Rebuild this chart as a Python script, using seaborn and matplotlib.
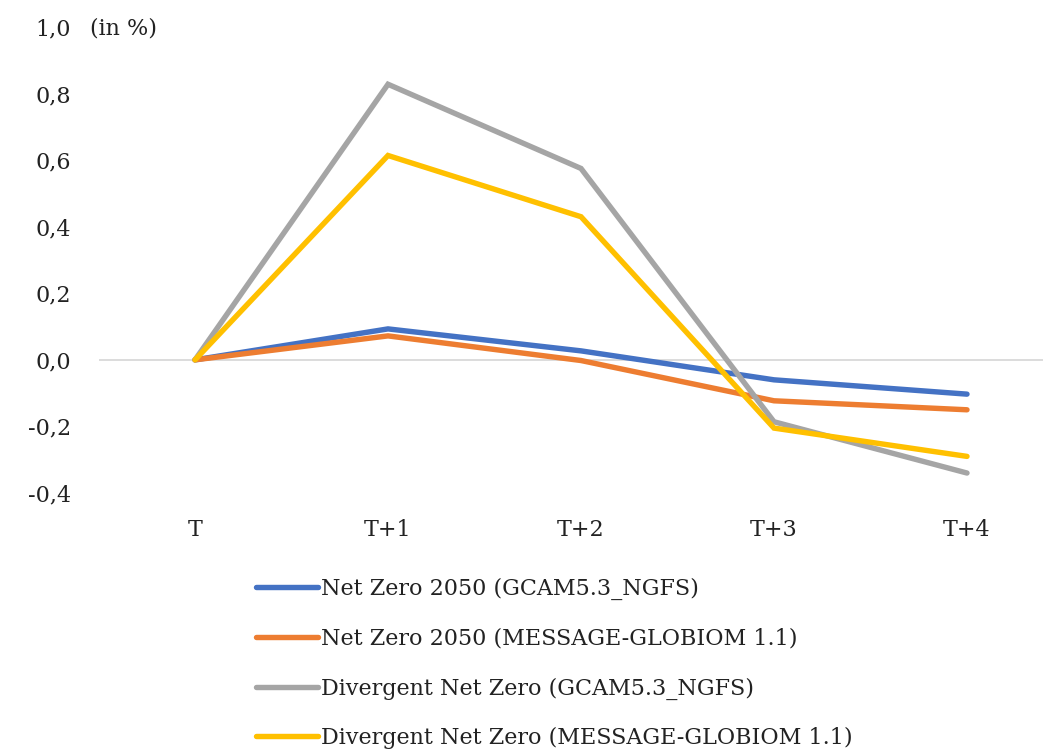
import matplotlib
matplotlib.use("Agg")
import matplotlib.pyplot as plt
from matplotlib.ticker import FuncFormatter
import seaborn as sns
import pandas as pd

periods = ["T", "T+1", "T+2", "T+3", "T+4"]
nz_gcam = [0.0, 0.093, 0.027, -0.060, -0.103]
nz_message = [0.0, 0.072, -0.002, -0.123, -0.150]
dnz_gcam = [0.0, 0.828, 0.575, -0.186, -0.340]
dnz_message = [0.0, 0.614, 0.430, -0.205, -0.290]

series_names = [
    "Net Zero 2050 (GCAM5.3_NGFS)",
    "Net Zero 2050 (MESSAGE-GLOBIOM 1.1)",
    "Divergent Net Zero (GCAM5.3_NGFS)",
    "Divergent Net Zero (MESSAGE-GLOBIOM 1.1)",
]
series_values = [nz_gcam, nz_message, dnz_gcam, dnz_message]
colors = ["#4472C4", "#ED7D31", "#A5A5A5", "#FFC000"]

rows = []
for name, vals in zip(series_names, series_values):
    for i, (p, v) in enumerate(zip(periods, vals)):
        rows.append({"pos": i, "period": p, "value": v, "scenario": name})
df = pd.DataFrame(rows)

sns.set_style("white")
plt.rcParams["font.family"] = ["DejaVu Serif"]

FS = 16
TXT = "#222222"
LW = 3.9

fig = plt.figure(figsize=(10.43, 7.5), dpi=100)
ax = fig.add_axes([98.5 / 1043, 1 - 493 / 750, 965 / 1043, 466 / 750])

ax.axhline(0, color="#D9D9D9", lw=1.3, zorder=1)
sns.lineplot(data=df, x="pos", y="value", hue="scenario", hue_order=series_names,
             palette=colors, linewidth=LW, ax=ax, legend=False, zorder=3,
             solid_capstyle="round", solid_joinstyle="miter")

ax.set_xlim(-0.5, 4.5)
ax.set_ylim(-0.4, 1.0)
ax.set_xticks(range(len(periods)))
ax.set_xticklabels(periods)
ax.set_yticks([-0.4, -0.2, 0.0, 0.2, 0.4, 0.6, 0.8, 1.0])
ax.yaxis.set_major_formatter(FuncFormatter(lambda v, _: f"{v:.1f}".replace(".", ",")))
ax.tick_params(axis="both", length=0, labelsize=FS, colors=TXT)
ax.tick_params(axis="y", pad=20)
ax.tick_params(axis="x", pad=19)
ax.set_xlabel("")
ax.set_ylabel("")
for s in ax.spines.values():
    s.set_visible(False)

fig.text(90 / 1043, 1 - 28 / 750, "(in %)", fontsize=FS, color=TXT,
         ha="left", va="center")

handles = [plt.Line2D([], [], color=c, lw=LW, solid_capstyle="round") for c in colors]
fig.legend(handles, series_names, loc="upper left",
           bbox_to_anchor=(256 / 1043, 1 - 578 / 750), frameon=False,
           fontsize=FS, handlelength=2.8, handletextpad=0.12,
           labelspacing=1.24, borderpad=0, borderaxespad=0, labelcolor=TXT)

fig.savefig("out.png", dpi=100)
